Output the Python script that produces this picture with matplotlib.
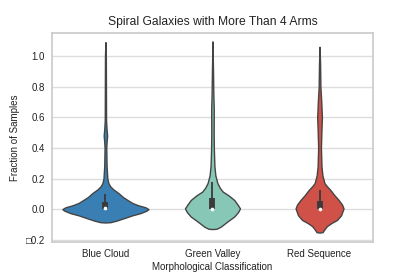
import numpy as np
import matplotlib
matplotlib.use('Agg')
import matplotlib.pyplot as plt

plt.rcParams['font.family'] = ['Liberation Sans', 'DejaVu Sans']

categories = ['Blue Cloud', 'Green Valley', 'Red Sequence']
colors = ['#3a7fb4', '#87c7b6', '#cf5148']

# violin outlines: y value and half width (in category units)
blue_y = [-0.087, -0.085, -0.075, -0.06, -0.04, -0.026, -0.01, 0.0, 0.012, 0.025, 0.04,
          0.06, 0.08, 0.105, 0.13, 0.15, 0.17, 0.2, 0.28, 0.4, 0.44, 0.48, 0.52, 0.58,
          0.8, 1.0, 1.09]
blue_w = [0.0, 0.047, 0.103, 0.168, 0.252, 0.327, 0.383, 0.402, 0.374, 0.308, 0.252,
          0.206, 0.162, 0.122, 0.072, 0.044, 0.028, 0.018, 0.011, 0.008, 0.011, 0.016,
          0.011, 0.006, 0.005, 0.004, 0.0]
green_y = [-0.13, -0.128, -0.115, -0.1, -0.08, -0.048, -0.02, 0.005, 0.03, 0.06, 0.09,
           0.115, 0.14, 0.17, 0.22, 0.28, 0.39, 0.5, 0.65, 0.75, 0.9, 1.095]
green_w = [0.0, 0.037, 0.075, 0.103, 0.140, 0.203, 0.238, 0.257, 0.234, 0.203, 0.150,
           0.095, 0.068, 0.046, 0.027, 0.018, 0.013, 0.011, 0.012, 0.008, 0.005, 0.0]
red_y = [-0.153, -0.15, -0.13, -0.11, -0.09, -0.07, -0.04, 0.005, 0.03, 0.06, 0.09,
         0.126, 0.15, 0.17, 0.22, 0.28, 0.4, 0.5, 0.6, 0.7, 0.8, 0.95, 1.06]
red_w = [0.0, 0.028, 0.047, 0.070, 0.112, 0.164, 0.201, 0.224, 0.210, 0.178, 0.140,
         0.100, 0.068, 0.046, 0.027, 0.018, 0.013, 0.017, 0.022, 0.016, 0.008, 0.005, 0.0]

# inner box: lower whisker, q1, median, q3, upper whisker
whisk_lo = [0.0, 0.0, 0.0]
q1 = [0.0, 0.0, 0.0]
medians = [0.006, 0.003, 0.003]
q3 = [0.045, 0.075, 0.056]
whisk_hi = [0.1, 0.176, 0.126]

outlines = [(blue_y, blue_w), (green_y, green_w), (red_y, red_w)]

fig = plt.figure(figsize=(4.15, 2.77), dpi=100)
ax = fig.add_axes([0.125, 0.126, 0.774, 0.755])

for i, (ys, ws) in enumerate(outlines):
    ys = np.array(ys)
    ws = np.array(ws)
    ax.fill_betweenx(ys, i - ws, i + ws, facecolor=colors[i], edgecolor='#444444',
                     linewidth=1.0, zorder=2)
    ax.plot([i, i], [whisk_lo[i], whisk_hi[i]], color='#3a3a3a', lw=1.3,
            solid_capstyle='butt', zorder=3)
    ax.plot([i, i], [q1[i], q3[i]], color='#3a3a3a', lw=4.2,
            solid_capstyle='butt', zorder=3)
    ax.scatter([i], [medians[i]], s=7, color='white', zorder=4, linewidths=0)

ax.set_xlim(-0.5, 2.5)
ax.set_ylim(-0.215, 1.15)
yt = [-0.2, 0.0, 0.2, 0.4, 0.6, 0.8, 1.0]
ax.set_yticks(yt)
ax.set_yticklabels([('%.1f' % v).replace('-', '\u25a1') for v in yt])
ax.set_xticks(range(len(categories)))
ax.set_xticklabels(categories)
ax.tick_params(axis='both', length=0, labelsize=7, colors='#222222', pad=5)
ax.grid(axis='y', color='#dddddd', lw=1.0, zorder=0)
ax.set_axisbelow(True)
for s in ax.spines.values():
    s.set_color('#cccccc')
    s.set_linewidth(1.25)

ax.set_title('Spiral Galaxies with More Than 4 Arms', fontsize=8.7, color='#222222', pad=6)
ax.set_xlabel('Morphological Classification', fontsize=7, color='#222222', labelpad=2)
ax.set_ylabel('Fraction of Samples', fontsize=7, color='#222222', labelpad=4)

fig.savefig('out.png', dpi=100)
